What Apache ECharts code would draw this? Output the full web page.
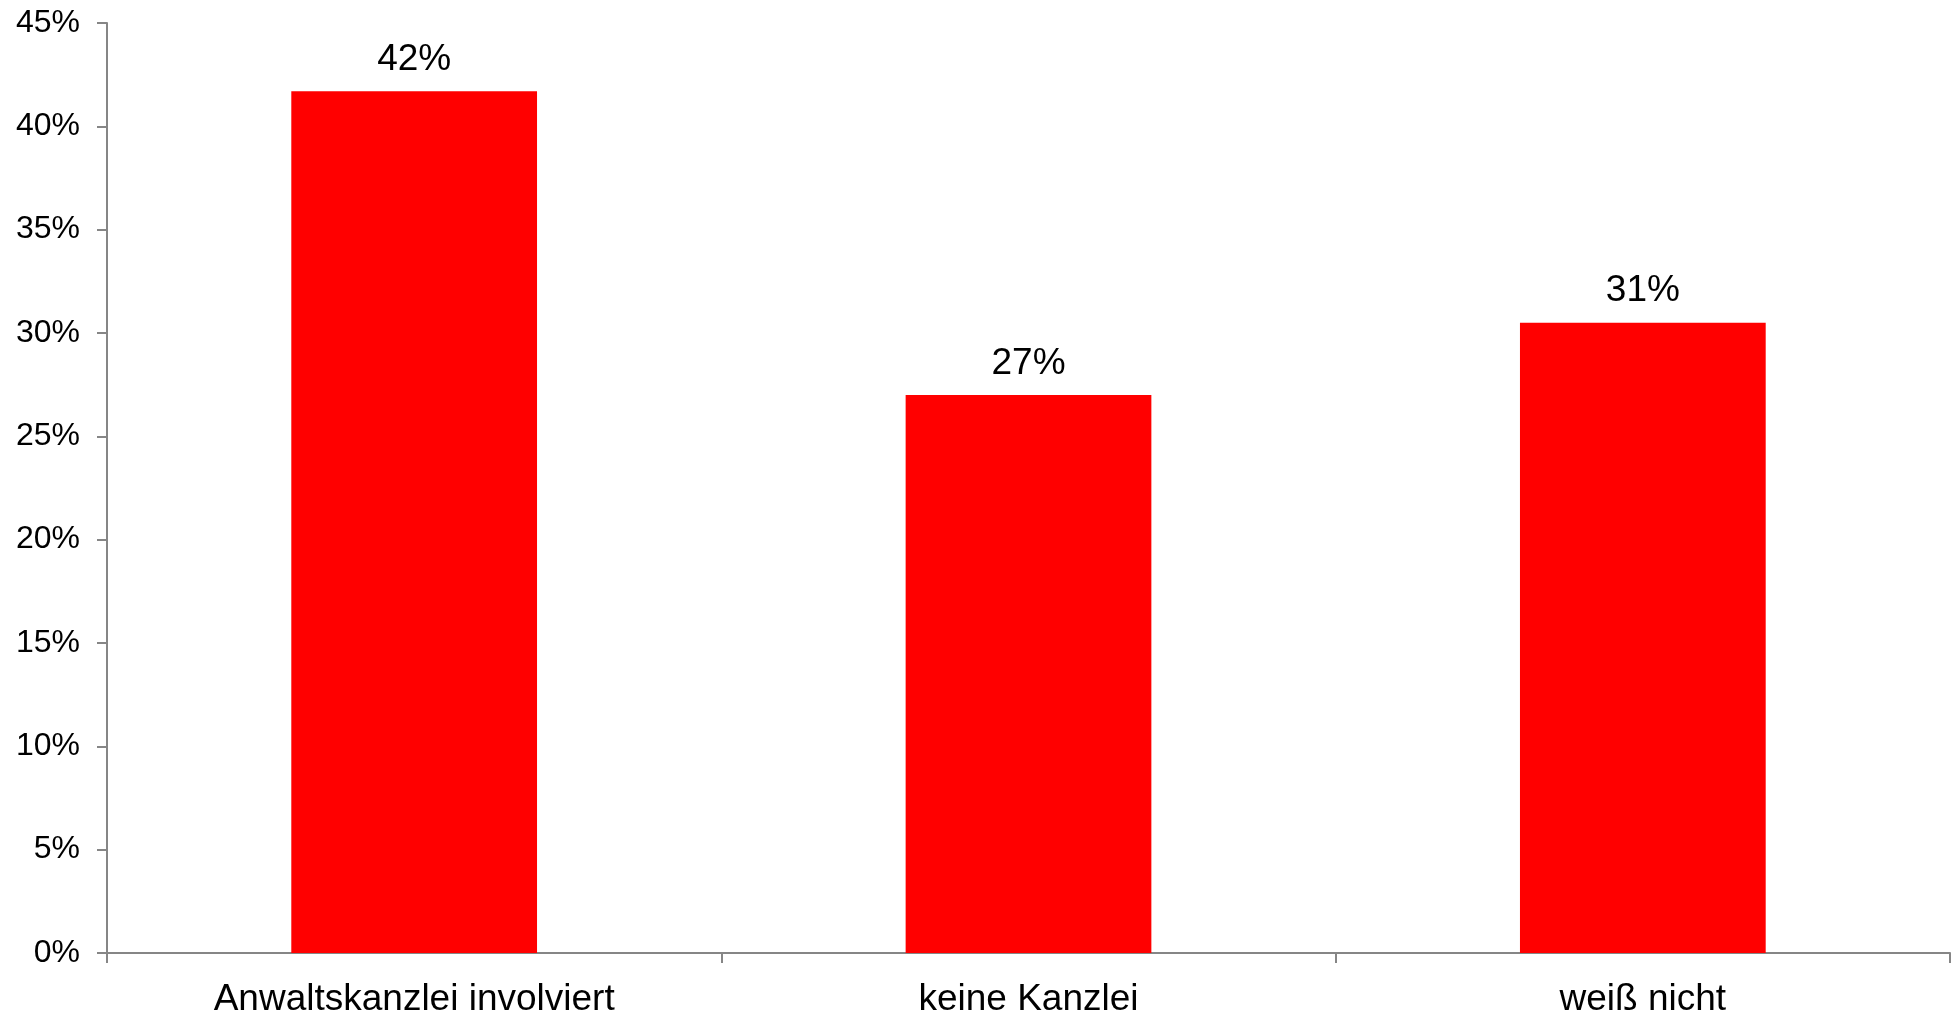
<!DOCTYPE html>
<html>
<head>
<meta charset="utf-8">
<script src="https://cdn.jsdelivr.net/npm/echarts@6/dist/echarts.min.js"></script>
<style>
html,body{margin:0;padding:0;background:#fff;}
#chart{width:1953px;height:1015px;}
</style>
</head>
<body>
<div id="chart"></div>
<script>
const categories = ["Anwaltskanzlei involviert", "keine Kanzlei", "weiß nicht"];
const values = [41.7, 27.0, 30.5];
const labels = ["42%", "27%", "31%"];

const chart = echarts.init(document.getElementById('chart'));
chart.setOption({
  animation: false,
  backgroundColor: '#ffffff',
  grid: { left: 107, right: 3, top: 23, bottom: 62, containLabel: false, outerBoundsMode: 'none' },
  xAxis: {
    type: 'category',
    data: categories,
    axisLine: { lineStyle: { color: '#868686', width: 2 } },
    axisTick: { show: true, length: 10, lineStyle: { color: '#868686', width: 2 } },
    axisLabel: { color: '#000', fontFamily: 'Liberation Sans', fontSize: 37, margin: 28 }
  },
  yAxis: {
    type: 'value',
    min: 0, max: 45, interval: 5,
    splitLine: { show: false },
    axisLine: { show: true, lineStyle: { color: '#868686', width: 2 } },
    axisTick: { show: true, length: 10, lineStyle: { color: '#868686', width: 2 } },
    axisLabel: { color: '#000', fontFamily: 'Liberation Sans', fontSize: 32, margin: 27, formatter: '{value}%' }
  },
  series: [{
    type: 'bar',
    data: values,
    barWidth: '40%',
    itemStyle: { color: '#ff0000' },
    label: {
      show: true, position: 'top', distance: 13,
      color: '#000', fontFamily: 'Liberation Sans', fontSize: 37,
      formatter: (p) => labels[p.dataIndex]
    }
  }]
});
</script>
</body>
</html>
